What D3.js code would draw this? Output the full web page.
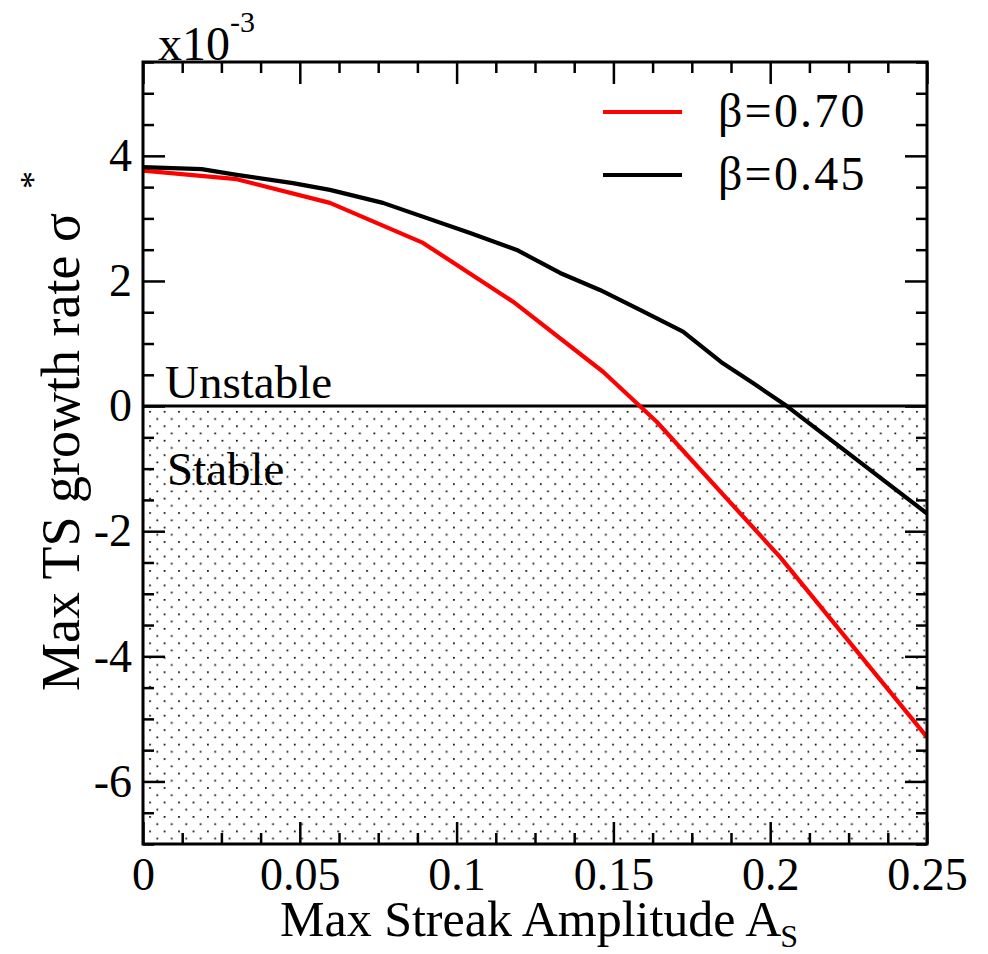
<!DOCTYPE html>
<html>
<head>
<meta charset="utf-8">
<script src="https://cdn.jsdelivr.net/npm/d3@7"></script>
<style>
  html, body { margin: 0; padding: 0; background: #fff; }
  svg text { font-family: "Liberation Serif", "Times New Roman", serif; fill: #000; }
</style>
</head>
<body>
<svg id="chart" width="988" height="954"></svg>
<script>
// Streak amplitude A_S and maximum TS growth rate (units of 1e-3)
const ampBeta070 = [0, 0.0299, 0.0596, 0.0893, 0.1180, 0.1467, 0.1638, 0.2031, 0.2500];
const sigmaBeta070 = [3.765, 3.627, 3.248, 2.608, 1.669, 0.549, -0.251, -2.411, -5.291];

const ampBeta045 = [0, 0.0187, 0.0299, 0.0478, 0.0596, 0.0765, 0.1043, 0.1192, 0.1330,
                    0.1457, 0.1585, 0.1722, 0.1849, 0.1945, 0.2053, 0.2500];
const sigmaBeta045 = [3.819, 3.787, 3.696, 3.563, 3.456, 3.248, 2.768, 2.496, 2.128,
                      1.856, 1.536, 1.189, 0.683, 0.368, 0.000, -1.717];

const seriesNames = ["\u03B2=0.70", "\u03B2=0.45"];
const seriesColors = ["#ff0000", "#000000"];

const xTickValues = [0, 0.05, 0.1, 0.15, 0.2, 0.25];
const xTickLabels = ["0", "0.05", "0.1", "0.15", "0.2", "0.25"];
const yTickValues = [-6, -4, -2, 0, 2, 4];
const yTickLabels = ["-6", "-4", "-2", "0", "2", "4"];

const xDomain = [0, 0.25];
const yDomain = [-7, 5.5];

(function draw() {
  const svg = d3.select("#chart");
  const pLeft = 143, pRight = 927, pTop = 62, pBottom = 844;

  const x = d3.scaleLinear().domain(xDomain).range([pLeft, pRight]);
  const y = d3.scaleLinear().domain(yDomain).range([pBottom, pTop]);

  // Minor ticks
  const xMinor = d3.range(0, 0.25 + 1e-9, 0.0125).filter(v => !xTickValues.some(t => Math.abs(t - v) < 1e-9));
  const yMinor = d3.range(-7, 5.5 + 1e-9, 0.5).filter(v => !yTickValues.some(t => Math.abs(t - v) < 1e-9));

  // Dotted pattern for the stable region
  const defs = svg.append("defs");
  const pat = defs.append("pattern")
    .attr("id", "dots")
    .attr("patternUnits", "userSpaceOnUse")
    .attr("x", 150 - 0.8).attr("y", 411.7 - 0.8)
    .attr("width", 14.47).attr("height", 14.47);
  pat.append("rect").attr("x", 0).attr("y", 0).attr("width", 1.7).attr("height", 1.7).attr("fill", "#000");
  pat.append("rect").attr("x", 7.235).attr("y", 7.235).attr("width", 1.7).attr("height", 1.7).attr("fill", "#000");

  defs.append("clipPath").attr("id", "plotClip")
    .append("rect").attr("x", pLeft).attr("y", pTop).attr("width", pRight - pLeft).attr("height", pBottom - pTop);

  svg.append("rect")
    .attr("x", pLeft).attr("y", y(0))
    .attr("width", pRight - pLeft).attr("height", pBottom - y(0))
    .attr("fill", "url(#dots)");

  // Zero line separating stable/unstable
  svg.append("line")
    .attr("x1", pLeft).attr("x2", pRight)
    .attr("y1", y(0)).attr("y2", y(0))
    .attr("stroke", "#000").attr("stroke-width", 3);

  svg.append("text").attr("x", 165).attr("y", 398).attr("font-size", 47).text("Unstable");
  svg.append("text").attr("x", 167).attr("y", 485).attr("font-size", 47).text("Stable");

  // Curves
  const line = d3.line().x(d => x(d[0])).y(d => y(d[1]));
  const series = [
    d3.zip(ampBeta070, sigmaBeta070),
    d3.zip(ampBeta045, sigmaBeta045)
  ];
  const plot = svg.append("g").attr("clip-path", "url(#plotClip)");
  plot.selectAll("path.curve")
    .data(series)
    .join("path")
    .attr("class", "curve")
    .attr("d", line)
    .attr("fill", "none")
    .attr("stroke", (d, i) => seriesColors[i])
    .attr("stroke-width", 4.2)
    .attr("stroke-linejoin", "round");

  // Axes with inward ticks on all four sides
  function styleAxis(g) {
    g.select(".domain").remove();
    g.selectAll(".tick line").attr("stroke", "#000").attr("stroke-width", 2.5);
    g.selectAll(".tick text").attr("font-size", 46).attr("font-family", '"Liberation Serif", "Times New Roman", serif');
  }

  svg.append("g").attr("transform", `translate(0,${pBottom})`)
    .call(d3.axisBottom(x).tickValues(xTickValues).tickSize(-22).tickPadding(13)
      .tickFormat((d, i) => xTickLabels[i]))
    .call(styleAxis);
  svg.append("g").attr("transform", `translate(0,${pBottom})`)
    .call(d3.axisBottom(x).tickValues(xMinor).tickSize(-11).tickFormat(""))
    .call(styleAxis);
  svg.append("g").attr("transform", `translate(0,${pTop})`)
    .call(d3.axisTop(x).tickValues(xTickValues).tickSize(-22).tickFormat(""))
    .call(styleAxis);
  svg.append("g").attr("transform", `translate(0,${pTop})`)
    .call(d3.axisTop(x).tickValues(xMinor).tickSize(-11).tickFormat(""))
    .call(styleAxis);

  svg.append("g").attr("transform", `translate(${pLeft},0)`)
    .call(d3.axisLeft(y).tickValues(yTickValues).tickSize(-22).tickPadding(11)
      .tickFormat((d, i) => yTickLabels[i]))
    .call(styleAxis);
  svg.append("g").attr("transform", `translate(${pLeft},0)`)
    .call(d3.axisLeft(y).tickValues(yMinor).tickSize(-11).tickFormat(""))
    .call(styleAxis);
  svg.append("g").attr("transform", `translate(${pRight},0)`)
    .call(d3.axisRight(y).tickValues(yTickValues).tickSize(-22).tickFormat(""))
    .call(styleAxis);
  svg.append("g").attr("transform", `translate(${pRight},0)`)
    .call(d3.axisRight(y).tickValues(yMinor).tickSize(-11).tickFormat(""))
    .call(styleAxis);

  // Frame
  svg.append("rect")
    .attr("x", pLeft).attr("y", pTop).attr("width", pRight - pLeft).attr("height", pBottom - pTop)
    .attr("fill", "none").attr("stroke", "#000").attr("stroke-width", 3);

  // Scale factor label
  const sf = svg.append("text").attr("x", 158).attr("y", 60).attr("font-size", 48);
  sf.append("tspan").text("x10");
  sf.append("tspan").attr("font-size", 30).attr("dy", -28).text("-3");

  // Axis titles
  const xt = svg.append("text").attr("x", 280).attr("y", 936).attr("font-size", 50);
  xt.append("tspan").text("Max Streak Amplitude A");
  xt.append("tspan").attr("font-size", 32).attr("dy", 11).attr("dx", -1).text("S");

  const yt = svg.append("text").attr("transform", "translate(79,691) rotate(-90)").attr("font-size", 54);
  yt.append("tspan").text("Max TS growth rate \u03C3");
  yt.append("tspan").attr("font-size", 36).attr("dy", -34).attr("dx", 24).text("*");

  // Legend
  const legend = svg.append("g");
  const legendRows = [112, 175];
  seriesNames.forEach((name, i) => {
    legend.append("line")
      .attr("x1", 603).attr("x2", 682)
      .attr("y1", legendRows[i]).attr("y2", legendRows[i])
      .attr("stroke", seriesColors[i]).attr("stroke-width", 4.2);
    legend.append("text")
      .attr("x", 718).attr("y", legendRows[i] + 15)
      .attr("font-size", 48)
      .attr("letter-spacing", 2.2)
      .text(name);
  });
})();
</script>
</body>
</html>
